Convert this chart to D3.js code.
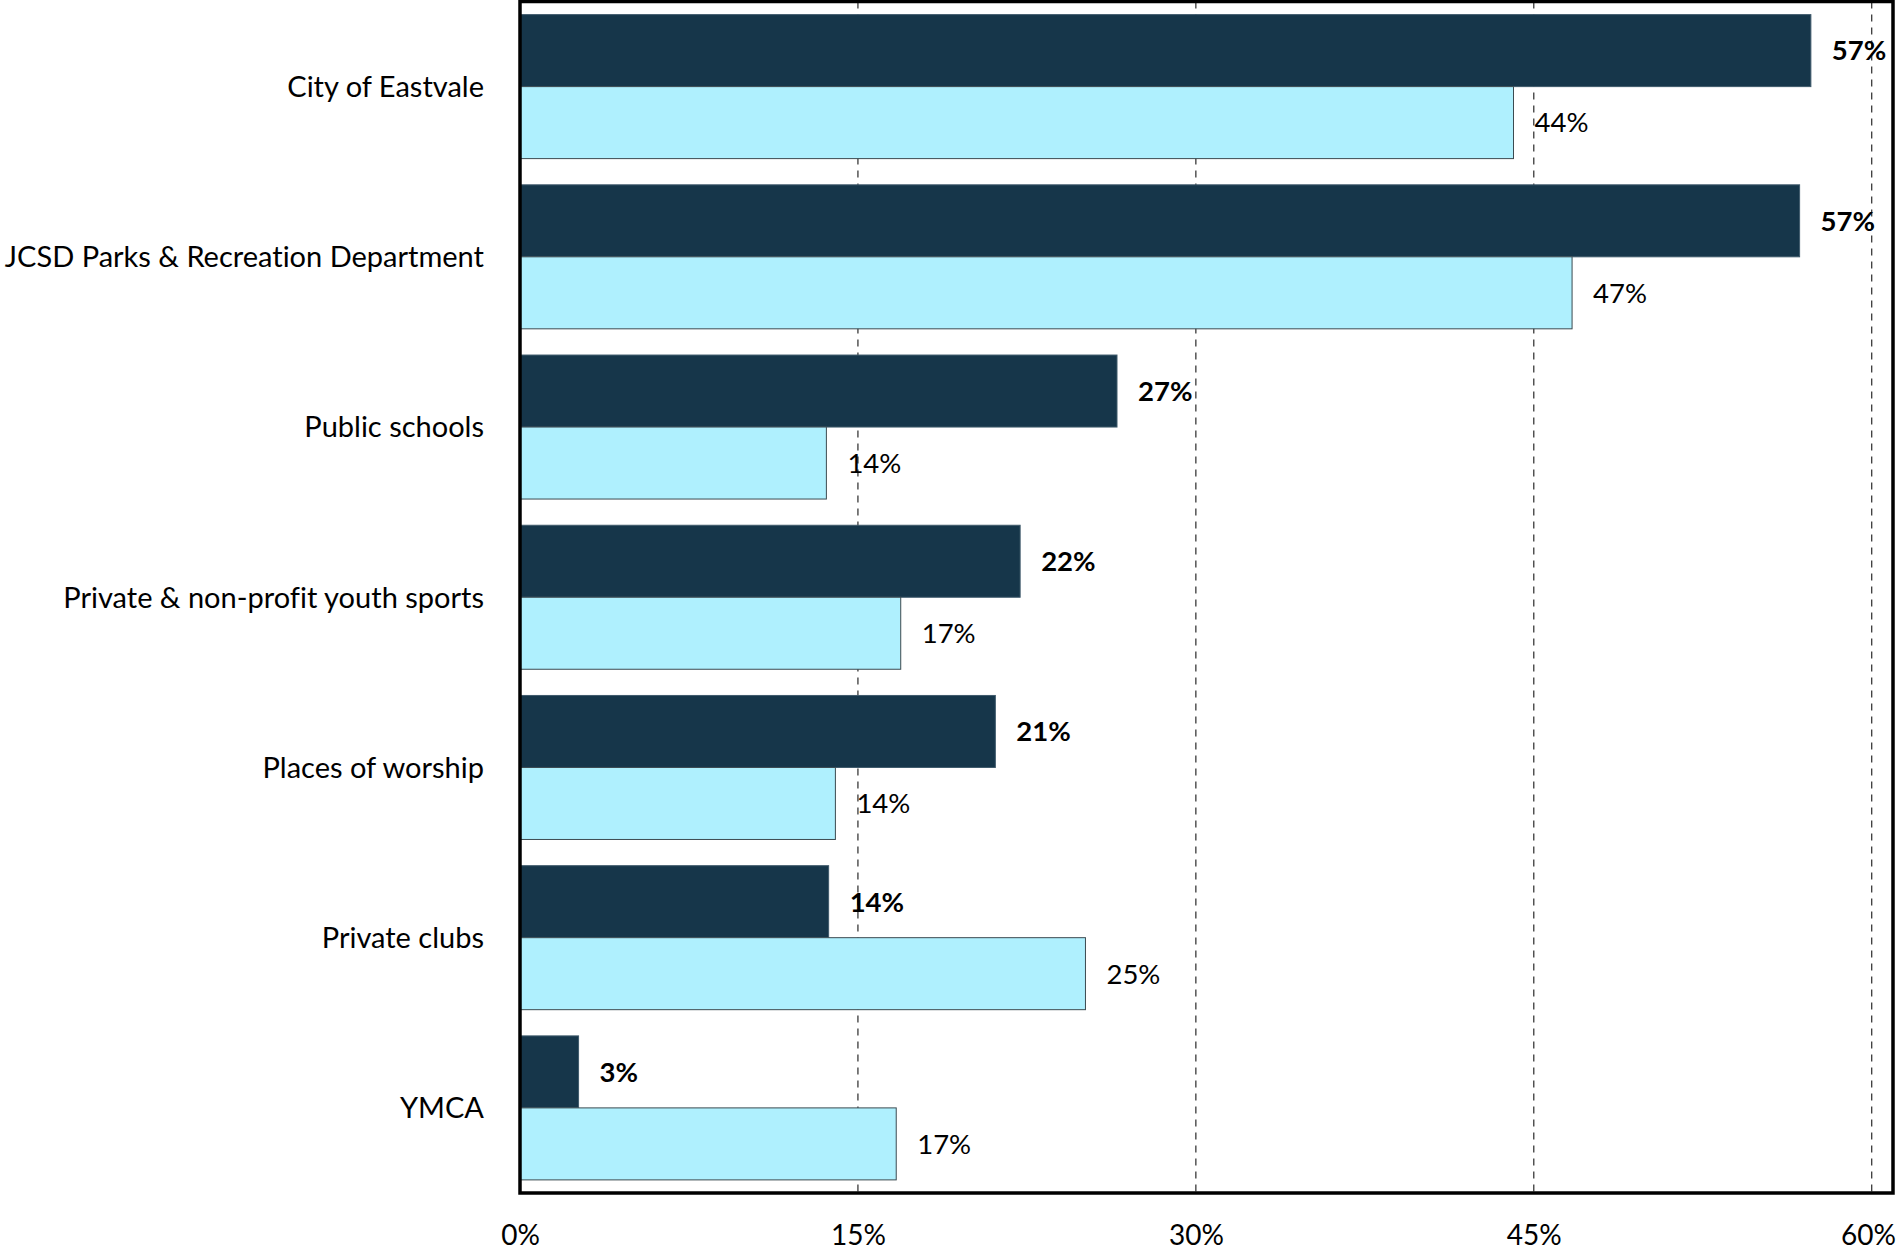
<!DOCTYPE html>
<html>
<head>
<meta charset="utf-8">
<script src="https://cdn.jsdelivr.net/npm/d3@7"></script>
<style>
  html, body { margin: 0; padding: 0; background: #fff; }
  svg { display: block; }
  text { font-family: Lato, "Open Sans", sans-serif; fill: #000; font-variant-ligatures: none; }
</style>
</head>
<body>
<svg id="chart" width="1898" height="1250"></svg>
<script>
// Organisations (top to bottom)
const categories = [
  "City of Eastvale",
  "JCSD Parks & Recreation Department",
  "Public schools",
  "Private & non-profit youth sports",
  "Places of worship",
  "Private clubs",
  "YMCA"
];
// Share of respondents, first series (dark bars, bold labels)
const darkValues = [0.573, 0.568, 0.265, 0.222, 0.211, 0.137, 0.026];
// Share of respondents, second series (light bars)
const lightValues = [0.441, 0.467, 0.136, 0.169, 0.140, 0.251, 0.167];
// Axis ticks
const tickValues = [0, 0.15, 0.30, 0.45, 0.60];
const tickLabels = ["0%", "15%", "30%", "45%", "60%"];

const series = [
  { key: "dark", values: darkValues, fill: "#16364a", stroke: "#3f5a6b", weight: "bold" },
  { key: "light", values: lightValues, fill: "#aff0fe", stroke: "#3c4a50", weight: "normal" }
];

const W = 1898;
const svg = d3.select("#chart");
const plot = { left: 520, right: 1893, top: 1.5, bottom: 1193 };

const x = d3.scaleLinear().domain([0, 0.6]).range([plot.left, 1871.7]);
const y = d3.scaleBand().domain(categories).range([plot.top, plot.bottom])
  .paddingInner(0.154).paddingOuter(0.077);
const ySub = d3.scaleBand().domain(series.map(s => s.key)).range([0, y.bandwidth()]);
const pct = d3.format(".0%");

// Dashed vertical gridlines
svg.append("g").selectAll("line")
  .data(tickValues.filter(v => v > 0))
  .join("line")
  .attr("x1", d => x(d)).attr("x2", d => x(d))
  .attr("y1", plot.top).attr("y2", plot.bottom)
  .attr("stroke", "#3a3a3a").attr("stroke-width", 1.3)
  .attr("stroke-dasharray", "7,6");

// Bars
const groups = svg.append("g").selectAll("g")
  .data(categories)
  .join("g")
  .attr("transform", d => `translate(0,${y(d)})`);

series.forEach(s => {
  groups.append("rect")
    .attr("x", x(0))
    .attr("y", ySub(s.key))
    .attr("width", (d, i) => x(s.values[i]) - x(0))
    .attr("height", ySub.bandwidth())
    .attr("fill", s.fill)
    .attr("stroke", s.stroke)
    .attr("stroke-width", 1);

  groups.append("text")
    .attr("x", (d, i) => x(s.values[i]) + 21)
    .attr("y", ySub(s.key) + ySub.bandwidth() / 2)
    .attr("dy", "0.36em")
    .attr("font-size", 27.5)
    .attr("font-weight", s.weight)
    .text((d, i) => pct(s.values[i]));
});

// Category labels
svg.append("g").selectAll("text")
  .data(categories)
  .join("text")
  .attr("x", 484)
  .attr("y", d => y(d) + y.bandwidth() / 2)
  .attr("dy", "0.36em")
  .attr("text-anchor", "end")
  .attr("font-size", 29)
  .text(d => d);

// X axis labels
const xAxis = d3.axisBottom(x)
  .tickValues(tickValues)
  .tickFormat((d, i) => tickLabels[i])
  .tickSize(0)
  .tickPadding(0);
const ax = svg.append("g")
  .attr("transform", `translate(0,${plot.bottom})`)
  .call(xAxis);
ax.select(".domain").remove();
ax.selectAll("text")
  .attr("y", 42)
  .attr("dy", "0.36em")
  .attr("font-size", 28)
  .attr("font-family", "Lato, 'Open Sans', sans-serif")
  .attr("fill", "#000");

// Keep the last tick label inside the page edge
ax.selectAll(".tick").each(function () {
  const tick = d3.select(this);
  const t = tick.select("text").node();
  const box = t.getBBox();
  const tx = +tick.attr("transform").match(/translate\(([-\d.]+)/)[1];
  const overflow = tx + box.x + box.width - (W - 2);
  if (overflow > 0) d3.select(t).attr("x", -overflow);
});

// Plot frame
svg.append("rect")
  .attr("x", plot.left).attr("y", plot.top)
  .attr("width", plot.right - plot.left)
  .attr("height", plot.bottom - plot.top)
  .attr("fill", "none")
  .attr("stroke", "#000")
  .attr("stroke-width", 3.5);
</script>
</body>
</html>
